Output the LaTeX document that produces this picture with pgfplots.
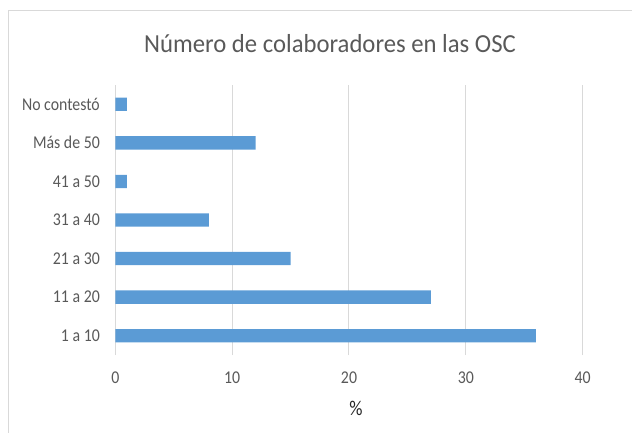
\documentclass[border=0pt]{standalone}
\usepackage{fontspec}
\setmainfont{Carlito}
\usepackage{pgfplots}
\pgfplotsset{compat=1.18}
\definecolor{barblue}{HTML}{5B9BD5}
\definecolor{txtgray}{HTML}{595959}
\definecolor{gridgray}{HTML}{D9D9D9}
\begin{document}
\begin{tikzpicture}[x=1pt,y=1pt]
\draw[gridgray, line width=1pt] (8.5,421) rectangle (660,-30);
\node[anchor=base, text=txtgray, font=\fontsize{26}{30}\selectfont, inner sep=0pt, xscale=0.95] at (330,379.3) {Número de colaboradores en las OSC};
\begin{axis}[
  at={(115.3pt,77pt)}, anchor=south west,
  scale only axis, width=467.4pt, height=270pt,
  xbar, bar width=13.3pt,
  xmin=0, xmax=40, ymin=-0.5, ymax=6.5,
  xtick={0,10,20,30,40},
  ytick={0,1,2,3,4,5,6},
  yticklabels={1 a 10,11 a 20,21 a 30,31 a 40,41 a 50,Más de 50,No contestó},
  xmajorgrids, grid style={gridgray, line width=1pt},
  axis line style={draw=none},
  major tick length=0pt,
  /pgf/number format/assume math mode=true,
  tick label style={font=\fontsize{18}{21}\selectfont, text=txtgray, inner sep=0pt},
  xticklabel style={anchor=base, yshift=-28.3pt, xscale=0.88},
  yticklabel style={anchor=base east, xshift=-15.3pt, yshift=-5.8pt, xscale=0.88},
  xlabel={\%},
  every axis x label/.style={at={(axis description cs:0.5,0)}, anchor=base, xshift=7pt, yshift=-60pt, font=\fontsize{21}{24}\selectfont, text=black!85, inner sep=0pt, xscale=0.88},
]
\addplot[fill=barblue, draw=none] coordinates {(36,0) (27,1) (15,2) (8,3) (1,4) (12,5) (1,6)};
\end{axis}
\pgfresetboundingbox
\path[use as bounding box] (0,0) rectangle (632,432);
\end{tikzpicture}
\end{document}
